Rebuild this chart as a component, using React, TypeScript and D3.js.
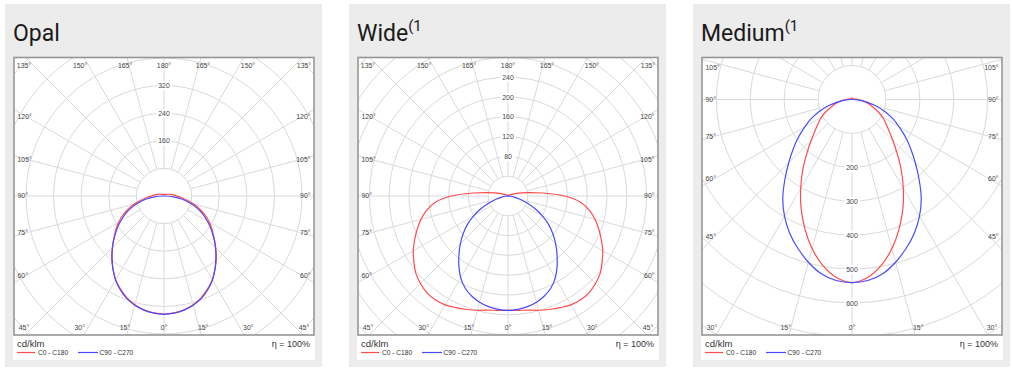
import React from 'react';
import * as d3 from 'd3';

// gamma angles (degrees, 0 = straight down) at which the intensities are given
const gammaAngles = [0, 5, 10, 15, 20, 25, 30, 35, 40, 45, 50, 55, 60, 65, 70, 75, 80, 85, 90,
  95, 100, 105, 110, 115, 120, 125, 130, 135, 140, 145, 150, 155, 160, 165, 170, 175, 180];

const degreeTicks = [0, 15, 30, 45, 60, 75, 90, 105, 120, 135, 150, 165, 180];

// Opal (cd/klm)
const opalC0C180 = [342, 340, 335, 326, 314, 298, 280, 258, 236, 212, 190, 170, 152, 132, 110, 88, 66, 50, 38,
  30, 24, 19, 15, 12, 10, 8, 7, 6, 6, 5, 5, 5, 5, 5, 5, 5, 5];
const opalC90C270 = [343, 341, 336, 328, 316, 300, 281, 258, 234, 211, 188, 166, 145, 124, 101, 78, 54, 28, 2,
  0, 0, 0, 0, 0, 0, 0, 0, 0, 0, 0, 0, 0, 0, 0, 0, 0, 0];

// Wide (cd/klm)
const wideC0C180 = [231, 232, 234, 239, 244, 249, 254, 256, 255, 250, 243, 232, 221, 208, 195, 182, 167, 148, 115,
  70, 40, 22, 13, 8, 6, 4, 3, 2, 2, 1, 1, 1, 1, 0, 0, 0, 0];
const wideC90C270 = [231, 230, 227, 222, 215, 205, 191, 173, 154, 136, 118, 100, 80, 60, 41, 25, 13, 5, 0,
  0, 0, 0, 0, 0, 0, 0, 0, 0, 0, 0, 0, 0, 0, 0, 0, 0, 0];

// Medium (cd/klm)
const mediumC0C180 = [540, 527, 497, 455, 406, 355, 303, 253, 207, 170, 142, 121, 104, 84, 65, 52, 40, 28, 18,
  12, 8, 6, 5, 4, 4, 4, 4, 4, 4, 4, 4, 4, 4, 4, 4, 4, 4];
const mediumC90C270 = [540, 536, 522, 497, 467, 435, 398, 356, 308, 264, 226, 192, 160, 132, 103, 72, 44, 20, 2,
  0, 0, 0, 0, 0, 0, 0, 0, 0, 0, 0, 0, 0, 0, 0, 0, 0, 0];

const opalRingLabels = [160, 240, 320];
const wideRingLabels = [80, 120, 160, 200, 240];
const mediumRingLabels = [200, 300, 400, 500, 600];

const legendLabels = ['C0 - C180', 'C90 - C270'];
const unitLabel = 'cd/klm';
const efficiencyLabel = 'η = 100%';

type PanelCfg = {
  title: string;
  sup: string;
  c0: number[];
  c90: number[];
  ringStep: number;
  ringPx: number;
  ringLabels: number[];
  labelDir: number;
  cy: number;
};

const panels: PanelCfg[] = [
  { title: 'Opal', sup: '', c0: opalC0C180, c90: opalC90C270, ringStep: 80, ringPx: 27.6, ringLabels: opalRingLabels, labelDir: -1, cy: 196 },
  { title: 'Wide', sup: '(1', c0: wideC0C180, c90: wideC90C270, ringStep: 40, ringPx: 19.8, ringLabels: wideRingLabels, labelDir: -1, cy: 196 },
  { title: 'Medium', sup: '(1', c0: mediumC0C180, c90: mediumC90C270, ringStep: 100, ringPx: 33.9, ringLabels: mediumRingLabels, labelDir: 1, cy: 99.5 },
];

const PANEL_X = [5, 349, 693];
const RED = '#ff4b4b';
const BLUE = '#4a4aff';
const GRID = '#d9d9d9';
const TICK_FONT = '"Liberation Sans", Arial, sans-serif';
const TICK_SIZE = 6.9;

function Panel({ cfg, x0, idx }: { cfg: PanelCfg; x0: number; idx: number }) {
  const left = x0 + 9;
  const right = x0 + 309;
  const top = 57.5;
  const bottom = 335;
  const cx = x0 + 159;
  const cy = cfg.cy;
  const hw = (right - left) / 2;

  const rScale = d3.scaleLinear().domain([0, cfg.ringStep]).range([0, cfg.ringPx]);
  const maxR = Math.hypot(Math.max(cx - left, right - cx), Math.max(cy - top, bottom - cy)) + 5;
  const nRings = Math.ceil(rScale.invert(maxR) / cfg.ringStep);
  const rings = d3.range(1, nRings + 1).map((k) => k * cfg.ringStep);
  const r1 = rScale(cfg.ringStep);
  const spokes = d3.range(0, 360, 15);

  const buildPath = (vals: number[]) => {
    const pts: [number, number][] = [];
    for (let i = gammaAngles.length - 1; i >= 0; i--) {
      const g = (gammaAngles[i] * Math.PI) / 180;
      pts.push([Math.PI - g, vals[i]]);
    }
    for (let i = 1; i < gammaAngles.length - 1; i++) {
      const g = (gammaAngles[i] * Math.PI) / 180;
      pts.push([Math.PI + g, vals[i]]);
    }
    const line = d3
      .lineRadial<[number, number]>()
      .angle((d) => d[0])
      .radius((d) => rScale(d[1]))
      .curve(d3.curveCatmullRomClosed.alpha(0.5));
    return line(pts) || '';
  };

  // degree labels
  const degLabels: { x: number; y: number; anchor: string; text: string }[] = [];
  degreeTicks.forEach((g) => {
    const sides = g === 0 || g === 180 ? [1] : [-1, 1];
    sides.forEach((s) => {
      const gr = (g * Math.PI) / 180;
      const dx = s * Math.sin(gr);
      const dy = Math.cos(gr);
      const vDist = dy > 0 ? bottom - cy : cy - top;
      const tSide = Math.abs(dx) > 1e-9 ? hw / Math.abs(dx) : Infinity;
      const tV = Math.abs(dy) > 1e-9 ? vDist / Math.abs(dy) : Infinity;
      const text = `${g}°`;
      if (tV <= tSide) {
        if (tV < 120) return;
        let x = cx + s * vDist * 1.05 * Math.abs(dx / dy);
        x = Math.max(left + 10, Math.min(right - 10, x));
        const y = dy > 0 ? bottom - 5 : top + 10.8;
        degLabels.push({ x, y, anchor: 'middle', text });
      } else {
        let yc = cy + hw * 0.915 * (dy / Math.abs(dx));
        yc = Math.max(top + 10.5, Math.min(bottom - 7.5, yc));
        const x = s < 0 ? left + 3.5 : right - 3.5;
        degLabels.push({ x, y: yc + 2.4, anchor: s < 0 ? 'start' : 'end', text });
      }
    });
  });

  const clipId = `clip-${idx}`;

  return (
    <g>
      <rect x={x0} y={4} width={317} height={363} fill="#ececec" />
      <text x={x0 + 8} y={40.7} fontFamily="Roboto, sans-serif" fontSize={23} fill="#1a1a1a">
        {cfg.title}
        {cfg.sup ? (
          <tspan fontSize={15} dy={-10}>
            {cfg.sup}
          </tspan>
        ) : null}
      </text>
      <rect x={x0 + 8} y={57} width={302} height={303} fill="#ffffff" />
      <defs>
        <clipPath id={clipId}>
          <rect x={left} y={top} width={right - left} height={bottom - top} />
        </clipPath>
      </defs>
      <g clipPath={`url(#${clipId})`}>
        <g transform={`translate(${cx},${cy})`}>
          {rings.map((v) => (
            <circle key={v} r={rScale(v)} fill="none" stroke={GRID} strokeWidth={1} />
          ))}
          {spokes.map((a) => {
            const ar = (a * Math.PI) / 180;
            return (
              <line
                key={a}
                x1={r1 * Math.sin(ar)}
                y1={r1 * Math.cos(ar)}
                x2={maxR * Math.sin(ar)}
                y2={maxR * Math.cos(ar)}
                stroke={GRID}
                strokeWidth={1}
              />
            );
          })}
          {cfg.ringLabels.map((v) => {
            const y = cfg.labelDir * rScale(v);
            return (
              <g key={v}>
                <rect x={-7.5} y={y - 4} width={15} height={8.5} fill="#ffffff" />
                <text x={0} y={y + 2.6} textAnchor="middle" fontFamily={TICK_FONT} fontSize={TICK_SIZE} fill="#444">
                  {v}
                </text>
              </g>
            );
          })}
          <path d={buildPath(cfg.c0)} fill="none" stroke={RED} strokeWidth={1.2} />
          <path d={buildPath(cfg.c90)} fill="none" stroke={BLUE} strokeWidth={1.2} />
        </g>
        {degLabels.map((l, i) => (
          <text key={i} x={l.x} y={l.y} textAnchor={l.anchor as any} fontFamily={TICK_FONT} fontSize={TICK_SIZE} fill="#444">
            {l.text}
          </text>
        ))}
      </g>
      <rect x={left} y={top} width={right - left} height={bottom - top} fill="none" stroke="#959595" strokeWidth={1.6} />
      <text x={x0 + 12} y={346.5} fontFamily={TICK_FONT} fontSize={9.5} fill="#333">
        {unitLabel}
      </text>
      <text x={x0 + 305} y={346.5} textAnchor="end" fontFamily={TICK_FONT} fontSize={9} fill="#333">
        {efficiencyLabel}
      </text>
      <line x1={x0 + 12} x2={x0 + 30} y1={352.5} y2={352.5} stroke={RED} strokeWidth={1.2} />
      <text x={x0 + 33} y={355} fontFamily={TICK_FONT} fontSize={6.6} fill="#333">
        {legendLabels[0]}
      </text>
      <line x1={x0 + 73} x2={x0 + 93} y1={352.5} y2={352.5} stroke={BLUE} strokeWidth={1.2} />
      <text x={x0 + 94.5} y={355} fontFamily={TICK_FONT} fontSize={6.6} fill="#333">
        {legendLabels[1]}
      </text>
    </g>
  );
}

export default function App() {
  return (
    <svg
      width={1013}
      height={371}
      viewBox="0 0 1013 371"
      style={{ position: 'absolute', left: 0, top: 0, display: 'block', background: '#ffffff' }}
    >
      {panels.map((p, i) => (
        <Panel key={p.title} cfg={p} x0={PANEL_X[i]} idx={i} />
      ))}
    </svg>
  );
}
